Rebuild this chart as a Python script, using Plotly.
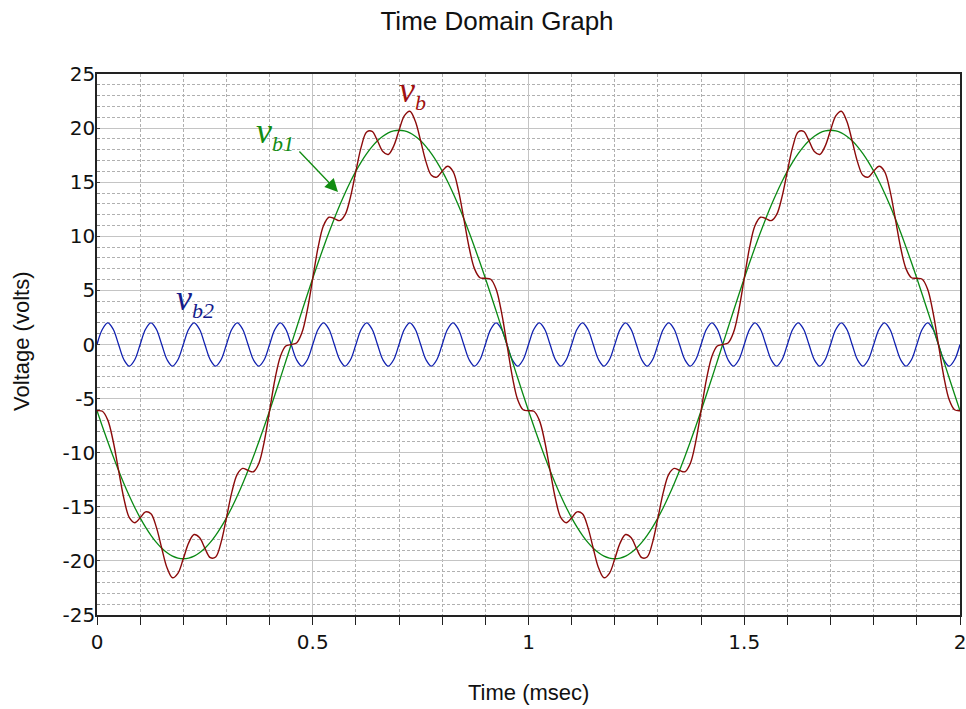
import numpy as np
import plotly.graph_objects as go

# time samples (ms)
t_ms = np.linspace(0, 2, 161)

vb1 = [
    -6.12, -7.58, -8.99, -10.35, -11.64, -12.86, -14.00, -15.06, -16.02, -16.88,
    -17.64, -18.29, -18.83, -19.25, -19.56, -19.74, -19.80, -19.74, -19.56, -19.25,
    -18.83, -18.29, -17.64, -16.88, -16.02, -15.06, -14.00, -12.86, -11.64, -10.35,
    -8.99, -7.58, -6.12, -4.62, -3.10, -1.55, 0.00, 1.55, 3.10, 4.62,
    6.12, 7.58, 8.99, 10.35, 11.64, 12.86, 14.00, 15.06, 16.02, 16.88,
    17.64, 18.29, 18.83, 19.25, 19.56, 19.74, 19.80, 19.74, 19.56, 19.25,
    18.83, 18.29, 17.64, 16.88, 16.02, 15.06, 14.00, 12.86, 11.64, 10.35,
    8.99, 7.58, 6.12, 4.62, 3.10, 1.55, 0.00, -1.55, -3.10, -4.62,
    -6.12, -7.58, -8.99, -10.35, -11.64, -12.86, -14.00, -15.06, -16.02, -16.88,
    -17.64, -18.29, -18.83, -19.25, -19.56, -19.74, -19.80, -19.74, -19.56, -19.25,
    -18.83, -18.29, -17.64, -16.88, -16.02, -15.06, -14.00, -12.86, -11.64, -10.35,
    -8.99, -7.58, -6.12, -4.62, -3.10, -1.55, 0.00, 1.55, 3.10, 4.62,
    6.12, 7.58, 8.99, 10.35, 11.64, 12.86, 14.00, 15.06, 16.02, 16.88,
    17.64, 18.29, 18.83, 19.25, 19.56, 19.74, 19.80, 19.74, 19.56, 19.25,
    18.83, 18.29, 17.64, 16.88, 16.02, 15.06, 14.00, 12.86, 11.64, 10.35,
    8.99, 7.58, 6.12, 4.62, 3.10, 1.55, 0.00, -1.55, -3.10, -4.62,
    -6.12,
]

vb2 = [
    0, 1.41, 2, 1.41, 0, -1.41, -2, -1.41, 0, 1.41, 2, 1.41, 0, -1.41, -2, -1.41,
    0, 1.41, 2, 1.41, 0, -1.41, -2, -1.41, 0, 1.41, 2, 1.41, 0, -1.41, -2, -1.41,
    0, 1.41, 2, 1.41, 0, -1.41, -2, -1.41, 0, 1.41, 2, 1.41, 0, -1.41, -2, -1.41,
    0, 1.41, 2, 1.41, 0, -1.41, -2, -1.41, 0, 1.41, 2, 1.41, 0, -1.41, -2, -1.41,
    0, 1.41, 2, 1.41, 0, -1.41, -2, -1.41, 0, 1.41, 2, 1.41, 0, -1.41, -2, -1.41,
    0, 1.41, 2, 1.41, 0, -1.41, -2, -1.41, 0, 1.41, 2, 1.41, 0, -1.41, -2, -1.41,
    0, 1.41, 2, 1.41, 0, -1.41, -2, -1.41, 0, 1.41, 2, 1.41, 0, -1.41, -2, -1.41,
    0, 1.41, 2, 1.41, 0, -1.41, -2, -1.41, 0, 1.41, 2, 1.41, 0, -1.41, -2, -1.41,
    0, 1.41, 2, 1.41, 0, -1.41, -2, -1.41, 0, 1.41, 2, 1.41, 0, -1.41, -2, -1.41,
    0, 1.41, 2, 1.41, 0, -1.41, -2, -1.41, 0, 1.41, 2, 1.41, 0, -1.41, -2, -1.41,
    0,
]

vb = [
    -6.12, -6.17, -6.99, -8.94, -11.64, -14.27, -16.00, -16.47, -16.02, -15.47,
    -15.64, -16.88, -18.83, -20.66, -21.56, -21.15, -19.80, -18.33, -17.56, -17.84,
    -18.83, -19.70, -19.64, -18.29, -16.02, -13.65, -12.00, -11.45, -11.64, -11.76,
    -10.99, -8.99, -6.12, -3.21, -1.10, -0.14, 0.00, 0.14, 1.10, 3.21,
    6.12, 8.99, 10.99, 11.76, 11.64, 11.45, 12.00, 13.65, 16.02, 18.29,
    19.64, 19.70, 18.83, 17.84, 17.56, 18.33, 19.80, 21.15, 21.56, 20.66,
    18.83, 16.88, 15.64, 15.47, 16.02, 16.47, 16.00, 14.27, 11.64, 8.94,
    6.99, 6.17, 6.12, 6.03, 5.10, 2.96, 0.00, -2.96, -5.10, -6.03,
    -6.12, -6.17, -6.99, -8.94, -11.64, -14.27, -16.00, -16.47, -16.02, -15.47,
    -15.64, -16.88, -18.83, -20.66, -21.56, -21.15, -19.80, -18.33, -17.56, -17.84,
    -18.83, -19.70, -19.64, -18.29, -16.02, -13.65, -12.00, -11.45, -11.64, -11.76,
    -10.99, -8.99, -6.12, -3.21, -1.10, -0.14, 0.00, 0.14, 1.10, 3.21,
    6.12, 8.99, 10.99, 11.76, 11.64, 11.45, 12.00, 13.65, 16.02, 18.29,
    19.64, 19.70, 18.83, 17.84, 17.56, 18.33, 19.80, 21.15, 21.56, 20.66,
    18.83, 16.88, 15.64, 15.47, 16.02, 16.47, 16.00, 14.27, 11.64, 8.94,
    6.99, 6.17, 6.12, 6.03, 5.10, 2.96, 0.00, -2.96, -5.10, -6.03,
    -6.12,
]

x_ticks = [0, 0.5, 1, 1.5, 2]
x_ticklabels = ["0", "0.5", "1", "1.5", "2"]
y_ticks = [-25, -20, -15, -10, -5, 0, 5, 10, 15, 20, 25]
y_ticklabels = ["-25", "-20", "-15", "-10", "-5", "0", "5", "10", "15", "20", "25"]

C_VB = "#8b0a0a"
C_VB1 = "#0a8a14"
C_VB2 = "#1020b0"

fig = go.Figure()
fig.add_trace(go.Scatter(x=t_ms, y=vb2, mode="lines", line=dict(color=C_VB2, width=1.3, shape="spline"), name="vb2"))
fig.add_trace(go.Scatter(x=t_ms, y=vb1, mode="lines", line=dict(color=C_VB1, width=1.3, shape="spline"), name="vb1"))
fig.add_trace(go.Scatter(x=t_ms, y=vb, mode="lines", line=dict(color=C_VB, width=1.4, shape="spline"), name="vb"))

tickfont = dict(family="DejaVu Sans", size=20, color="#111")
fig.update_xaxes(
    range=[0, 2], tickvals=x_ticks, ticktext=x_ticklabels, ticks="outside", ticklen=8, tickcolor="#222",
    showline=True, linecolor="#222", linewidth=1.5, mirror=True, zeroline=False, automargin=False,
    ticklabeloverflow="allow", showgrid=True, gridcolor="#c4c4c4", gridwidth=1.2, tickfont=tickfont,
    minor=dict(dtick=0.1, ticks="outside", ticklen=8, tickcolor="#222", showgrid=True,
               gridcolor="#b0b0b0", griddash="3px,2px", gridwidth=1),
)
fig.update_yaxes(
    range=[-25, 25], tickvals=y_ticks, ticktext=y_ticklabels, ticks="inside", ticklen=3, tickcolor="#444",
    showline=True, linecolor="#222", linewidth=1.5, mirror=True, zeroline=False, automargin=False,
    ticklabelstandoff=-4, showgrid=True, gridcolor="#c4c4c4", gridwidth=1.2, tickfont=tickfont,
    minor=dict(dtick=1, ticks="inside", ticklen=3, tickcolor="#888", showgrid=True,
               gridcolor="#b0b0b0", griddash="3px,2px", gridwidth=1),
)

sfont = "Liberation Serif"
sub_style = "font-size:22px"
fig.update_layout(
    width=966, height=709,
    margin=dict(l=97, r=6, t=74, b=94),
    plot_bgcolor="white", paper_bgcolor="white",
    showlegend=False,
    title=dict(text="Time Domain Graph", x=497 / 966, xanchor="center", xref="container",
               y=1 - 21 / 709, yanchor="middle", yref="container",
               font=dict(family="Liberation Sans", size=26, color="#111")),
    annotations=[
        dict(text="Time (msec)", xref="paper", yref="paper", x=0.5, y=-0.144,
             xanchor="center", yanchor="middle", showarrow=False,
             font=dict(family="Liberation Sans", size=22, color="#111")),
        dict(text="Voltage (volts)", xref="paper", yref="paper", x=-0.087, y=0.5065, textangle=-90,
             xanchor="center", yanchor="middle", showarrow=False,
             font=dict(family="Liberation Sans", size=22, color="#111")),
        dict(text=f"<i>v<sub><span style='{sub_style}'>b</span></sub></i>", x=0.731, y=23.3, showarrow=False,
             font=dict(family=sfont, size=36, color="#a01010")),
        dict(text=f"<i>v<sub><span style='{sub_style}'>b1</span></sub></i>", x=0.412, y=19.5, showarrow=False,
             font=dict(family=sfont, size=36, color="#128c12")),
        dict(text=f"<i>v<sub><span style='{sub_style}'>b2</span></sub></i>", x=0.227, y=4.1, showarrow=False,
             font=dict(family=sfont, size=36, color="#141c8c")),
        dict(text="", x=0.5585, y=14.1, ax=-40, ay=-42, showarrow=True, arrowhead=2,
             arrowsize=2, arrowwidth=1.3, arrowcolor="#128c12"),
    ],
)

post = (
    "document.documentElement.style.margin='0';document.body.style.margin='0';"
    "document.documentElement.style.overflow='hidden';document.body.style.overflow='hidden';"
)
fig.write_html("out.html", post_script=post, config={"displayModeBar": False})
